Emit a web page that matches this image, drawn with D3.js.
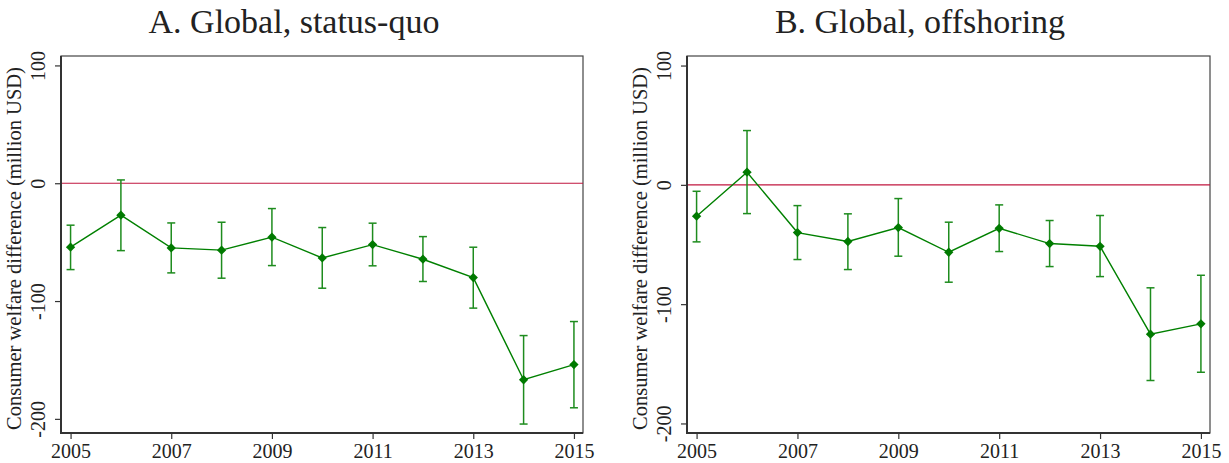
<!DOCTYPE html>
<html>
<head>
<meta charset="utf-8">
<script src="https://cdn.jsdelivr.net/npm/d3@7"></script>
<style>
body{margin:0;background:#fff;}
svg text{fill:#222;}
</style>
</head>
<body>
<div class="canvas"></div>
<script>
// data
const years=[2005,2006,2007,2008,2009,2010,2011,2012,2013,2014,2015];
const yTicks=[100,0,-100,-200];
const xTicks=[2005,2007,2009,2011,2013,2015];
const titles=['A. Global, status-quo','B. Global, offshoring'];

const statusQuo=[-54.3,-27.1,-54.9,-56.8,-45.8,-63.4,-52.1,-64.5,-80.1,-166.8,-153.9];
const statusQuoHi=[-35.6,2.8,-33.7,-33.1,-21.5,-37.6,-33.9,-45.3,-54.3,-129.3,-117.4];
const statusQuoLo=[-73.3,-57.2,-76.1,-80.6,-69.9,-89.1,-70.1,-83.4,-106.0,-204.4,-190.6];

const offshoring=[-26.3,10.6,-40.0,-47.5,-35.8,-56.5,-36.4,-49.2,-51.5,-125.2,-116.5];
const offshoringHi=[-5.4,45.5,-17.4,-24.3,-11.5,-31.3,-16.8,-29.9,-25.7,-86.3,-75.8];
const offshoringLo=[-47.8,-24.1,-62.6,-71.0,-59.8,-81.6,-55.9,-68.5,-76.9,-164.0,-157.1];

const svg=d3.select('.canvas')
      .append('svg')
        .attr('width',1229)
        .attr('height',463);

const panels=[
  {title:titles[0],est:statusQuo,hi:statusQuoHi,lo:statusQuoLo,left:61,right:583,yDom:[-212,108]},
  {title:titles[1],est:offshoring,hi:offshoringHi,lo:offshoringLo,left:687,right:1210,yDom:[-208,108]}
];
const plotTop=56,plotBottom=433;
const green='#008000',ciGreen='#1e8c1e',zeroCol='#c0163f';
const serif='"Liberation Serif", "Times New Roman", serif';

panels.forEach(p=>{
  const x=d3.scaleLinear().domain([2004.81,2015.18]).range([p.left,p.right]);
  const y=d3.scaleLinear().domain(p.yDom).range([plotBottom,plotTop]);
  const g=svg.append('g');

  //title, centred over the whole panel (axis labels included)
  g.append('text')
    .attr('x',p.left+233)
    .attr('y',33)
    .attr('text-anchor','middle')
    .style('font-family',serif)
    .style('font-size','34px')
    .text(p.title);

  //frame
  g.append('rect')
    .attr('x',p.left).attr('y',plotTop)
    .attr('width',p.right-p.left).attr('height',plotBottom-plotTop)
    .attr('fill','none').attr('stroke','#444').attr('stroke-width',1.2);

  //zero line
  g.append('line')
    .attr('x1',p.left).attr('x2',p.right)
    .attr('y1',y(0)).attr('y2',y(0))
    .attr('stroke',zeroCol).attr('stroke-width',1.2);

  //axes
  const xAxis=d3.axisBottom(x).tickValues(xTicks).tickFormat(d=>String(d)).tickSize(6).tickSizeOuter(0);
  const yAxis=d3.axisLeft(y).tickValues(yTicks).tickFormat(d=>String(d)).tickSize(6).tickSizeOuter(0);
  const xg=g.append('g').attr('transform',`translate(0,${plotBottom})`).call(xAxis);
  const yg=g.append('g').attr('transform',`translate(${p.left},0)`).call(yAxis);
  [xg,yg].forEach(a=>{
    a.attr('font-family',null);
    a.select('.domain').attr('stroke','#333').attr('stroke-width',2);
    a.selectAll('.tick line').attr('stroke','#333').attr('stroke-width',1.2);
    a.selectAll('text')
      .style('font-family',serif)
      .style('font-size','20px')
      .attr('fill','#222');
  });
  xg.select('.domain').attr('d',`M${p.left-1},0H${p.right}`);
  yg.select('.domain').attr('d',`M0,${plotTop}V${plotBottom+1}`);
  xg.selectAll('text').attr('y',11).attr('dy','0.71em');
  yg.selectAll('.tick text')
    .attr('x',null).attr('dy',null)
    .attr('text-anchor','middle')
    .attr('transform','translate(-16,0) rotate(-90)')
    .attr('y',0);

  //y label
  g.append('text')
    .attr('transform',`translate(${p.left-40},${(plotTop+plotBottom)/2+4}) rotate(-90)`)
    .attr('text-anchor','middle')
    .style('font-family',serif)
    .style('font-size','20.5px')
    .text('Consumer welfare difference (million USD)');

  //error bars
  const eb=g.selectAll('.eb').data(years).enter().append('g').attr('class','eb');
  eb.append('line')
    .attr('x1',d=>x(d)).attr('x2',d=>x(d))
    .attr('y1',(d,i)=>y(p.hi[i])).attr('y2',(d,i)=>y(p.lo[i]))
    .attr('stroke',ciGreen).attr('stroke-width',1.5);
  ['hi','lo'].forEach(k=>{
    eb.append('line')
      .attr('x1',d=>x(d)-4).attr('x2',d=>x(d)+4)
      .attr('y1',(d,i)=>y(p[k][i])).attr('y2',(d,i)=>y(p[k][i]))
      .attr('stroke',ciGreen).attr('stroke-width',1.5);
  });

  //line
  const line=d3.line().x((d,i)=>x(years[i])).y(d=>y(d));
  g.append('path').datum(p.est)
    .attr('d',line).attr('fill','none')
    .attr('stroke',green).attr('stroke-width',1.4);

  //diamond markers
  g.selectAll('.pt').data(p.est).enter().append('path')
    .attr('class','pt')
    .attr('d',d3.symbol().type(d3.symbolDiamond2).size(55))
    .attr('transform',(d,i)=>`translate(${x(years[i])},${y(d)})`)
    .attr('fill','#007a00');
});
</script>
</body>
</html>
